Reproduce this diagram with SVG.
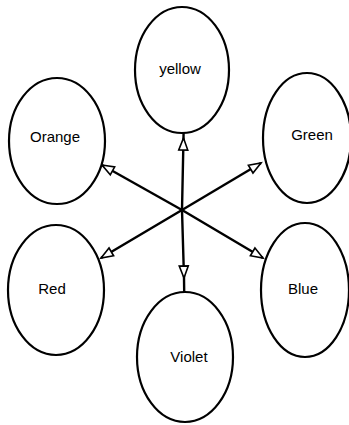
<svg xmlns="http://www.w3.org/2000/svg" width="349" height="425" viewBox="0 0 349 425">
<style>
.node ellipse{fill:#fff;stroke:#000;stroke-width:2.2}
.node text{font-family:"Liberation Sans",Arial,sans-serif;font-size:15px;fill:#000;text-anchor:middle}
.edge{fill:none;stroke:#000;stroke-width:2.4}
</style>
<defs>
<marker id="arr" markerUnits="userSpaceOnUse" markerWidth="14" markerHeight="11" refX="12" refY="4.5" orient="auto" overflow="visible">
<path d="M0,0 L12,4.5 L0,9 Z" fill="#fff" stroke="#000" stroke-width="1.6"/>
</marker>
</defs>
<rect width="349" height="425" fill="#fff"/>
<g id="connectors">
<path class="edge" d="M182,210 L183.5,138 L183.6,132" marker-mid="url(#arr)"/>
<path class="edge" d="M182,210 L184,278 L184.2,292" marker-mid="url(#arr)"/>
<path class="edge" d="M182,210 L102,165" marker-end="url(#arr)"/>
<path class="edge" d="M182,210 L261,163" marker-end="url(#arr)"/>
<path class="edge" d="M182,210 L101,258" marker-end="url(#arr)"/>
<path class="edge" d="M182,210 L263,258" marker-end="url(#arr)"/>
</g>
<g id="yellow" class="node"><ellipse cx="182" cy="70" rx="47" ry="63"/><text x="180" y="74">yellow</text></g>
<g id="orange" class="node"><ellipse cx="57" cy="141" rx="48" ry="63"/><text x="55" y="142">Orange</text></g>
<g id="green" class="node"><ellipse cx="307" cy="138" rx="44" ry="65"/><text x="312" y="140">Green</text></g>
<g id="red" class="node"><ellipse cx="56" cy="290" rx="48" ry="65"/><text x="52" y="294">Red</text></g>
<g id="violet" class="node"><ellipse cx="185" cy="357" rx="48" ry="65"/><text x="189" y="362">Violet</text></g>
<g id="blue" class="node"><ellipse cx="305" cy="290" rx="44" ry="67"/><text x="303" y="294">Blue</text></g>
</svg>
